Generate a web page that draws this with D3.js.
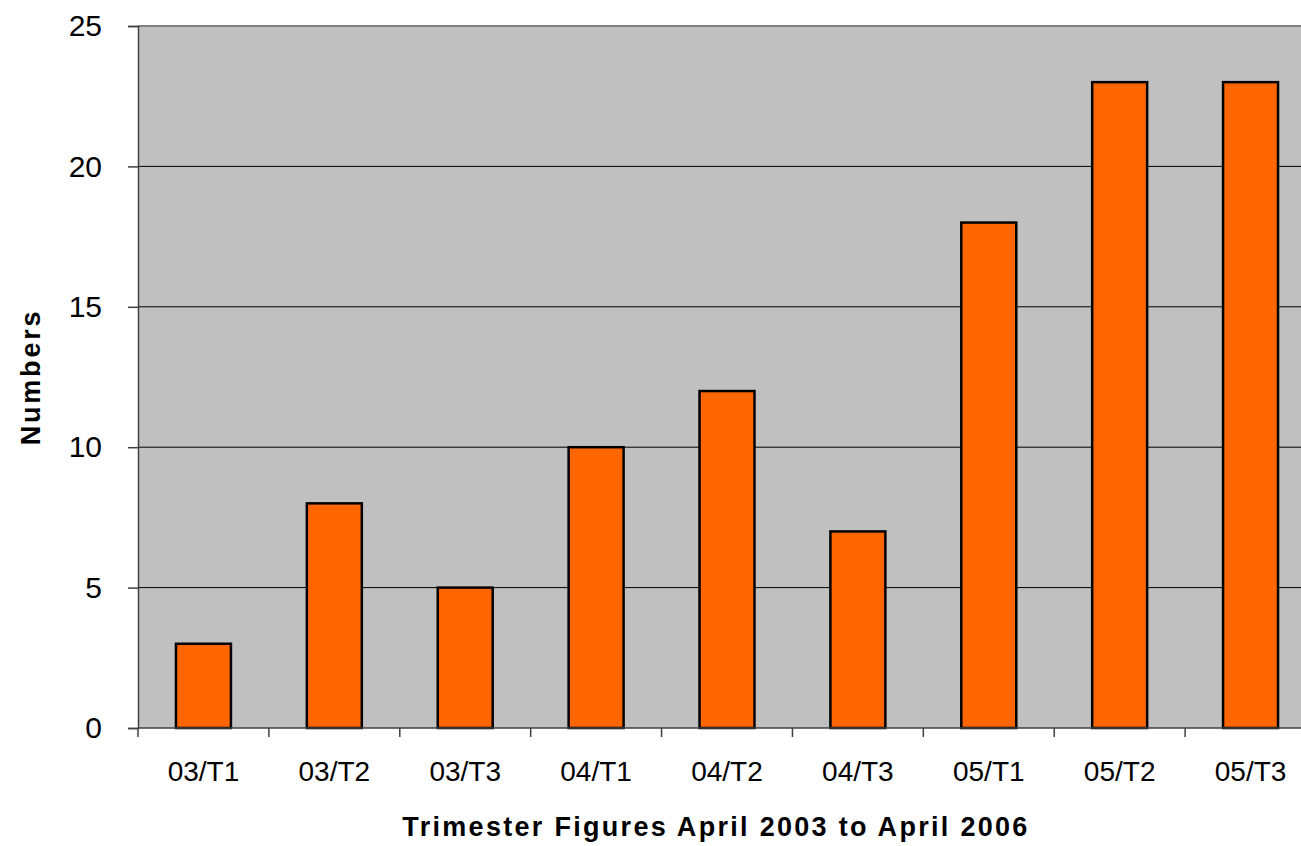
<!DOCTYPE html>
<html><head><meta charset="utf-8">
<script src="https://cdn.jsdelivr.net/npm/d3@7"></script>
<style>body{margin:0;background:#fff;overflow:hidden}svg{display:block}</style>
</head><body><svg id="c" width="1301" height="846"></svg>
<script>
const categories = ["03/T1","03/T2","03/T3","04/T1","04/T2","04/T3","05/T1","05/T2","05/T3"];
const values = [3, 8, 5, 10, 12, 7, 18, 23, 23];
const yTicks = [0, 5, 10, 15, 20, 25];

const svg = d3.select("#c");
const L = 138, R = 1316, T = 26, B = 728;
const x = d3.scaleBand().domain(categories).range([L, R]).paddingInner(0.58).paddingOuter(0.29);
const y = d3.scaleLinear().domain([0, 25]).range([B, T]);
const font = "'Liberation Sans', Arial, sans-serif";

svg.append("rect").attr("x", L).attr("y", T).attr("width", R - L).attr("height", B - T).attr("fill", "#c0c0c0");

svg.append("g").selectAll("line").data(yTicks.filter(d => d > 0 && d < 25)).join("line")
  .attr("x1", L).attr("x2", R).attr("y1", d => y(d)).attr("y2", d => y(d))
  .attr("stroke", "#000").attr("stroke-width", 1);

svg.append("line").attr("x1", L).attr("x2", R).attr("y1", T).attr("y2", T).attr("stroke", "#808080").attr("stroke-width", 2);

svg.append("g").selectAll("rect").data(values).join("rect")
  .attr("x", (d, i) => x(categories[i])).attr("width", x.bandwidth())
  .attr("y", d => y(d)).attr("height", d => B - y(d))
  .attr("fill", "#ff6600").attr("stroke", "#000").attr("stroke-width", 2.5);

const yAxis = svg.append("g").attr("transform", `translate(${L},0)`)
  .call(d3.axisLeft(y).tickValues(yTicks).tickSize(10).tickPadding(26));
yAxis.select(".domain").attr("stroke", "#404040").attr("stroke-width", 1.5);
yAxis.selectAll(".tick line").attr("stroke", "#404040").attr("stroke-width", 1.5);
yAxis.selectAll("text").attr("font-family", font).attr("font-size", 30).attr("fill", "#000");

const xAxis = svg.append("g").attr("transform", `translate(0,${B})`);
xAxis.append("line").attr("x1", L).attr("x2", R).attr("stroke", "#404040").attr("stroke-width", 1.5);
xAxis.selectAll("line.t").data(d3.range(categories.length + 1)).join("line").attr("class", "t")
  .attr("x1", i => L + i * (R - L) / categories.length).attr("x2", i => L + i * (R - L) / categories.length)
  .attr("y1", 0).attr("y2", 9).attr("stroke", "#404040").attr("stroke-width", 1.5);
xAxis.selectAll("text").data(categories).join("text")
  .attr("x", d => x(d) + x.bandwidth() / 2).attr("y", 53)
  .attr("text-anchor", "middle").attr("font-family", font).attr("font-size", 28).text(d => d);

svg.append("text").attr("x", 716).attr("y", 836).attr("text-anchor", "middle")
  .attr("font-family", font).attr("font-size", 27).attr("font-weight", "bold").attr("letter-spacing", 2.3)
  .text("Trimester Figures April 2003 to April 2006");
svg.append("text").attr("transform", "translate(40,377) rotate(-90)").attr("text-anchor", "middle")
  .attr("font-family", font).attr("font-size", 27).attr("font-weight", "bold").attr("letter-spacing", 2.8)
  .text("Numbers");
</script></body></html>
